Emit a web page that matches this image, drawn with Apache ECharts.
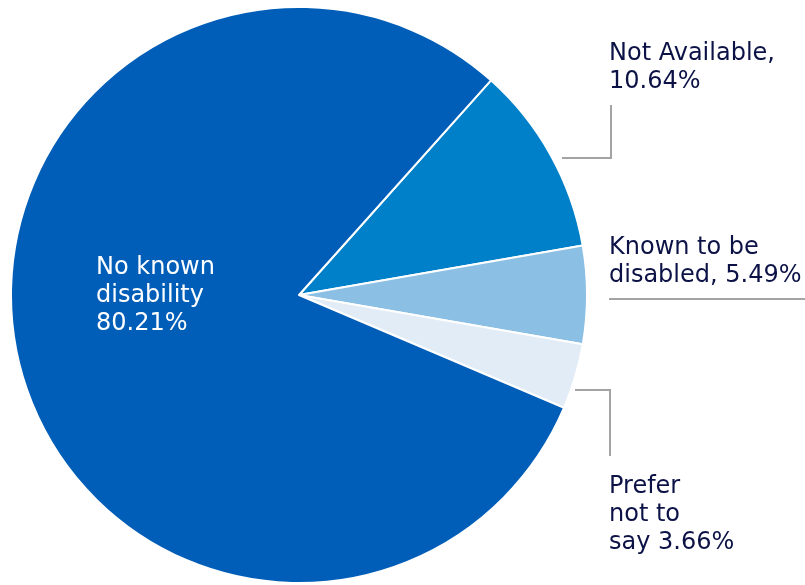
<!DOCTYPE html>
<html>
<head>
<meta charset="utf-8">
<script src="https://cdn.jsdelivr.net/npm/echarts@6/dist/echarts.min.js"></script>
<style>
  html, body { margin: 0; padding: 0; background: #ffffff; }
  #chart { width: 805px; height: 585px; }
</style>
</head>
<body>
<div id="chart"></div>
<script>
// Disability status breakdown (percent of total)
const categories = ['Not Available', 'Known to be disabled', 'Prefer not to say', 'No known disability'];
const shares = [10.64, 5.49, 3.66, 80.21];
// Label wording: text before the value, and the joiner between text and value
const labelHeads = ['Not Available,', 'Known to be\ndisabled,', 'Prefer\nnot to\nsay', 'No known\ndisability'];
const labelJoins = ['\n', ' ', ' ', '\n'];
const sliceColors = ['#0080c8', '#8bbfe4', '#e1ecf6', '#005eb8'];

const textColor = '#0c1246';
const leaderColor = '#a3a3a3';

// Label anchors (top-left) and leader paths for each slice
const labelAnchors = [[609, 40], [609, 234], [609, 473], [96, 254]];
const leaderPaths = [
  [[562, 158], [611, 158], [611, 105]],
  [[609, 299], [700, 299], [805, 299]],
  [[575, 390], [610, 390], [610, 456]],
  null
];

const chart = echarts.init(document.getElementById('chart'), null, { renderer: 'canvas' });

const data = categories.map((name, i) => {
  const item = {
    name: name,
    value: shares[i],
    itemStyle: { color: sliceColors[i] }
  };
  if (i === 3) {
    item.label = { position: 'inside', color: '#ffffff' };
    item.labelLine = { show: false };
  }
  return item;
});

chart.setOption({
  animation: false,
  backgroundColor: '#ffffff',
  series: [{
    type: 'pie',
    center: [299, 295],
    radius: [0, 288],
    startAngle: 48.2,
    clockwise: true,
    avoidLabelOverlap: false,
    itemStyle: { borderColor: '#ffffff', borderWidth: 2 },
    label: {
      show: true,
      position: 'outside',
      color: textColor,
      fontFamily: 'DejaVu Sans',
      fontSize: 24,
      lineHeight: 28,
      align: 'left',
      formatter: (p) => labelHeads[p.dataIndex] + labelJoins[p.dataIndex] + shares[p.dataIndex].toFixed(2) + '%'
    },
    labelLine: {
      show: true,
      lineStyle: { color: leaderColor, width: 2 }
    },
    labelLayout: (params) => {
      const i = params.dataIndex;
      const res = {
        x: labelAnchors[i][0],
        y: labelAnchors[i][1],
        align: 'left',
        verticalAlign: 'top'
      };
      if (leaderPaths[i]) res.labelLinePoints = leaderPaths[i];
      return res;
    },
    data: data
  }],
  graphic: [{
    type: 'text',
    left: 229,
    top: 284,
    style: { text: ',', fill: textColor, font: '14px "DejaVu Sans"' }
  }]
});
</script>
</body>
</html>
